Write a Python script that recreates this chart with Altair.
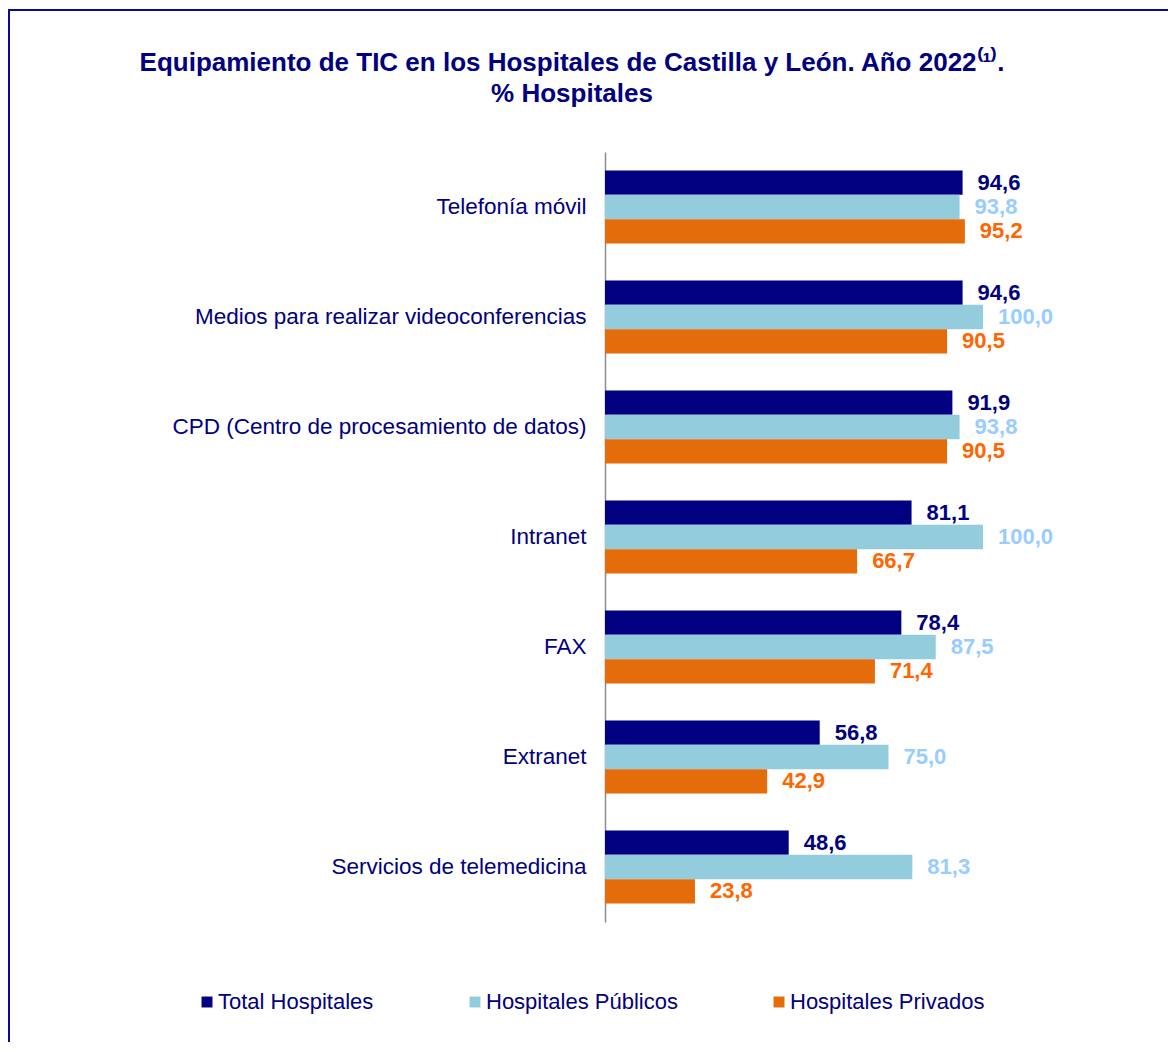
import altair as alt
import pandas as pd

categories = [
    "Telefonía móvil",
    "Medios para realizar videoconferencias",
    "CPD (Centro de procesamiento de datos)",
    "Intranet",
    "FAX",
    "Extranet",
    "Servicios de telemedicina",
]
series = ["Total Hospitales", "Hospitales Públicos", "Hospitales Privados"]
total = [94.6, 94.6, 91.9, 81.1, 78.4, 56.8, 48.6]
publicos = [93.8, 100.0, 93.8, 100.0, 87.5, 75.0, 81.3]
privados = [95.2, 90.5, 90.5, 66.7, 71.4, 42.9, 23.8]

bar_colors = ["#000080", "#93CDDD", "#E46C0A"]
text_colors = ["#000080", "#99CCFF", "#FF6600"]
navy = "#000080"
font = "Liberation Sans"

rows = []
for s, vals in zip(series, [total, publicos, privados]):
    for c, v in zip(categories, vals):
        rows.append({"cat": c, "serie": s, "valor": v,
                     "label": f"{v:.1f}".replace(".", ",")})
df = pd.DataFrame(rows)

y_enc = alt.Y(
    "cat:N", sort=categories,
    scale=alt.Scale(paddingInner=0.336, paddingOuter=0.168),
    axis=alt.Axis(title=None, labelFontSize=22.5, labelColor=navy, labelFont=font,
                  labelPadding=19, ticks=False, domainColor="#8c8c8c",
                  domainWidth=1.5, labelLimit=600, grid=False),
)
yoff = alt.YOffset("serie:N", sort=series, scale=alt.Scale(paddingInner=0, paddingOuter=0))
x_enc = alt.X("valor:Q", scale=alt.Scale(domain=[0, 100]), axis=None)

base = alt.Chart(df)

bars = base.mark_bar().encode(
    y=y_enc, yOffset=yoff, x=x_enc,
    color=alt.Color(
        "serie:N", sort=series,
        scale=alt.Scale(domain=series, range=bar_colors),
        legend=alt.Legend(
            title=None, orient="none", legendX=-409, legendY=839,
            direction="horizontal", symbolType="square", symbolSize=120,
            symbolStrokeWidth=0, labelFontSize=22, labelColor=navy,
            labelFont=font, columnPadding=90, labelOffset=0, labelLimit=500,
        ),
    ),
)

texts = base.mark_text(align="left", baseline="middle", dx=15, fontWeight="bold",
                       fontSize=22, font=font).encode(
    y=y_enc, yOffset=yoff, x=x_enc, text="label:N",
    color=alt.Color("serie:N", sort=series,
                    scale=alt.Scale(domain=series, range=text_colors), legend=None),
)

border = alt.Chart(pd.DataFrame({"k": [0]})).mark_rect(
    fillOpacity=0, stroke="#0A0A96", strokeWidth=2
).encode(
    x=alt.value(-596), x2=alt.value(700), y=alt.value(-142), y2=alt.value(1000)
)

chart = alt.layer(border, bars, texts).resolve_scale(color="independent").properties(
    width=378,
    height=770,
    title=alt.TitleParams(
        text=["Equipamiento de TIC en los Hospitales de Castilla y León. Año 2022⁽¹⁾.",
              "% Hospitales"],
        fontSize=26, font=font, fontWeight="bold", color=navy,
        anchor="middle", frame="group", baseline="top", offset=0,
        dx=-222, dy=98, lineHeight=31,
    ),
    autosize=alt.AutoSizeParams(type="none"),
    padding={"left": 597, "top": 144, "right": 185, "bottom": 120},
    background="white",
).configure_view(stroke="transparent")

chart.save("out.html", embed_options={"renderer": "svg", "actions": False})
